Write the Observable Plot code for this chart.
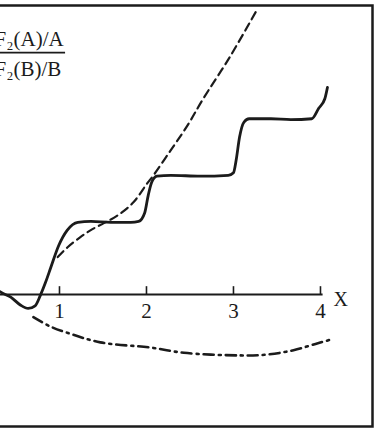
<!DOCTYPE html>
<html>
<head>
<meta charset="utf-8">
<script src="https://cdn.jsdelivr.net/npm/d3@7"></script>
<script src="https://cdn.jsdelivr.net/npm/@observablehq/plot@0.6"></script>
<style>
  html, body { margin: 0; padding: 0; background: #fff; }
</style>
</head>
<body>
<div id="chart"></div>
<script>
// Ratio of structure functions F2(A)/A over F2(B)/B against X.
// Stepped (solid) curve
const stepX = [0.25, 0.32, 0.44, 0.55, 0.64, 0.72, 0.78, 0.84, 0.90, 0.99, 1.09, 1.21, 1.36, 1.59, 1.82, 1.91, 1.98, 2.02, 2.06, 2.12, 2.28, 2.62, 2.94, 3.00, 3.03, 3.07, 3.12, 3.18, 3.43, 3.66, 3.90, 3.98, 4.05, 4.08];
const stepY = [0.09, 0.03, -0.03, -0.12, -0.16, -0.13, -0.01, 0.14, 0.31, 0.56, 0.74, 0.83, 0.84, 0.83, 0.83, 0.84, 0.94, 1.14, 1.29, 1.36, 1.37, 1.36, 1.37, 1.40, 1.54, 1.81, 1.98, 2.02, 2.02, 2.01, 2.02, 2.14, 2.25, 2.38];

// Smooth rising (dashed) curve
const dashedX = [0.98, 1.09, 1.24, 1.36, 1.51, 1.67, 1.85, 2.01, 2.08, 2.28, 2.47, 2.64, 2.97, 3.28];
const dashedY = [0.43, 0.54, 0.66, 0.74, 0.82, 0.91, 1.06, 1.28, 1.37, 1.66, 1.94, 2.23, 2.75, 3.29];

// Lower (dash-dot) curve
const dashDotX = [0.70, 0.90, 1.09, 1.47, 2.05, 2.43, 3.08, 3.39, 3.69, 3.97, 4.15];
const dashDotY = [-0.26, -0.37, -0.44, -0.55, -0.61, -0.67, -0.70, -0.69, -0.64, -0.56, -0.51];

// Axis
const xTicks = [1, 2, 3, 4];
const tickLabels = ["1", "2", "3", "4"];
const axisLabel = "X";
const ratioTop = "F\u2082(A)/A";
const ratioBottom = "F\u2082(B)/B";

const ink = "#1b1b1b";
const serif = "'Liberation Serif', 'Times New Roman', serif";

const xMin = 0.322, xMax = 4.621;
const axisEnd = 4.03;
const tickLen = 0.09;
const barY = 2.78, barEnd = 1.07;

const series = (xs, ys) => xs.map((x, i) => ({x, y: ys[i]}));

const chart = Plot.plot({
  width: 374,
  height: 430,
  margin: 0,
  style: {background: "#fff", fontFamily: serif, color: ink},
  x: {domain: [xMin, xMax], axis: null},
  y: {domain: [-1.563, 3.379], axis: null},
  marks: [
    // border of the figure (left edge lies outside the view)
    Plot.frame({stroke: ink, strokeWidth: 2.5, insetTop: 5, insetRight: 2, insetBottom: 4, insetLeft: -10}),
    // horizontal X axis through zero
    Plot.ruleY([0], {x1: xMin - 0.5, x2: axisEnd, stroke: ink, strokeWidth: 2}),
    Plot.ruleX(xTicks, {y1: 0, y2: tickLen, stroke: ink, strokeWidth: 1.6}),
    Plot.text(xTicks, {x: d => d, y: 0, text: (d, i) => tickLabels[i], lineAnchor: "bottom", dy: 23, fontSize: 21, fill: ink}),
    Plot.text([axisLabel], {x: xTicks[xTicks.length - 1], y: 0, dx: 13, dy: 11, lineAnchor: "bottom", textAnchor: "start", fontSize: 20, fill: ink}),
    // curves
    Plot.line(series(dashDotX, dashDotY), {x: "x", y: "y", curve: "catmull-rom", stroke: ink, strokeWidth: 2.6, strokeDasharray: "10,5,2,5"}),
    Plot.line(series(dashedX, dashedY), {x: "x", y: "y", curve: "catmull-rom", stroke: ink, strokeWidth: 2.2, strokeDasharray: "8,5"}),
    Plot.line(series(stepX, stepY), {x: "x", y: "y", curve: "monotone-x", stroke: ink, strokeWidth: 2.8, clip: true}),
    // ratio label
    Plot.text([ratioTop], {frameAnchor: "top-left", dx: -6, dy: 45, lineAnchor: "bottom", textAnchor: "start", fontSize: 21, fill: ink}),
    Plot.ruleY([barY], {x1: xMin - 0.2, x2: barEnd, stroke: ink, strokeWidth: 1.6}),
    Plot.text([ratioBottom], {frameAnchor: "top-left", dx: -6, dy: 75, lineAnchor: "bottom", textAnchor: "start", fontSize: 21, fill: ink})
  ]
});

document.getElementById("chart").append(chart);
</script>
</body>
</html>
